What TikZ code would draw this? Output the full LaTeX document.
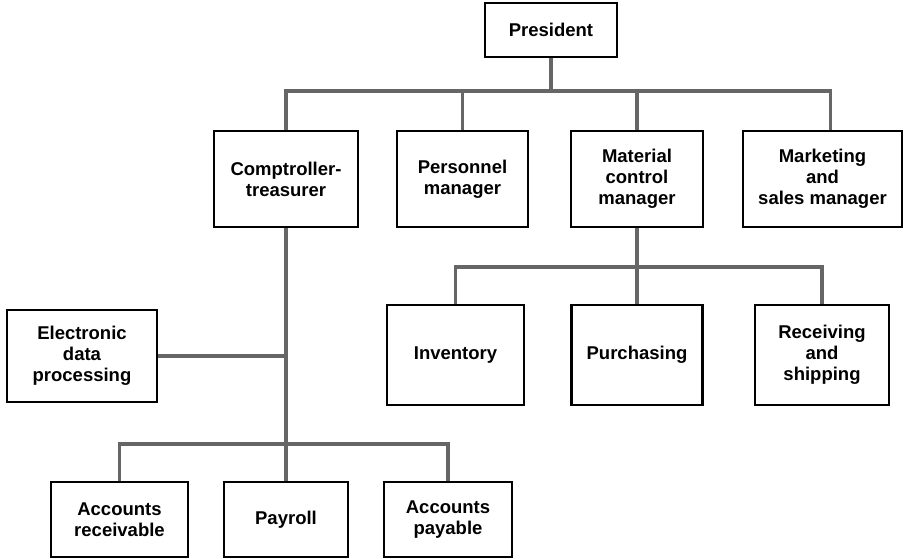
\documentclass[tikz,border=0pt]{standalone}
\usepackage{fontspec}
\setmainfont{Liberation Sans}
\begin{document}
\begin{tikzpicture}[x=1pt,y=-1pt,
  box/.style={draw=black, line width=2.4pt, fill=white, align=center,
    inner sep=2pt, font=\bfseries\fontsize{18.5}{21}\selectfont},
  conn/.style={draw=black!60, line width=3.2pt}]
\useasboundingbox (0,0) rectangle (906,558);
% nodes
\node[box, minimum width=132, minimum height=54] (pres) at (551,30) {President};
\node[box, minimum width=144, minimum height=96] (comp) at (286,179) {Comptroller-\\treasurer};
\node[box, minimum width=131, minimum height=96] (pers) at (462.5,179) {Personnel\\manager};
\node[box, minimum width=132, minimum height=96] (mat) at (637,179) {Material\\control\\manager};
\node[box, minimum width=159, minimum height=96] (mkt) at (822.5,179) {Marketing\\and\\sales manager};
\node[box, minimum width=150, minimum height=92] (edp) at (82,356) {Electronic\\data\\processing};
\node[box, minimum width=137, minimum height=100] (inv) at (455.5,355) {Inventory};
\node[box, minimum width=131, minimum height=100] (pur) at (637,355) {Purchasing};
\node[box, minimum width=134, minimum height=100] (rec) at (822,355) {Receiving\\and\\shipping};
\node[box, minimum width=137, minimum height=75] (ar) at (119.5,519.5) {Accounts\\receivable};
\node[box, minimum width=124, minimum height=75] (pay) at (286,519.5) {Payroll};
\node[box, minimum width=128, minimum height=75] (ap) at (448,519.5) {Accounts\\payable};
% junctions
\coordinate (j1) at (551,91);
\coordinate (j2) at (637,267);
\coordinate (j3) at (286,444);
% connectors
\draw[conn] (pres.south) -- (j1);
\draw[conn] (comp.north) |- (j1) -| ([xshift=8pt]mkt.north);
\draw[conn] (pers.north) -- (pers.north |- j1);
\draw[conn] (mat.north) -- (mat.north |- j1);
\draw[conn] (mat.south) -- (pur.north);
\draw[conn] (inv.north) |- (j2) -| (rec.north);
\draw[conn] (comp.south) -- (pay.north);
\draw[conn] (edp.east) -- (edp.east -| comp.south);
\draw[conn] (ar.north) |- (j3) -| (ap.north);
\end{tikzpicture}
\end{document}
